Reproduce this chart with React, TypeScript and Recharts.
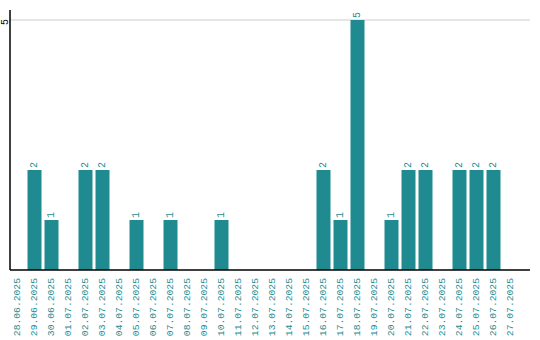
import React from 'react';
import { BarChart, Bar, XAxis, YAxis, CartesianGrid, LabelList } from 'recharts';

const dates = [
  '28.06.2025', '29.06.2025', '30.06.2025', '01.07.2025', '02.07.2025', '03.07.2025',
  '04.07.2025', '05.07.2025', '06.07.2025', '07.07.2025', '08.07.2025', '09.07.2025',
  '10.07.2025', '11.07.2025', '12.07.2025', '13.07.2025', '14.07.2025', '15.07.2025',
  '16.07.2025', '17.07.2025', '18.07.2025', '19.07.2025', '20.07.2025', '21.07.2025',
  '22.07.2025', '23.07.2025', '24.07.2025', '25.07.2025', '26.07.2025', '27.07.2025',
];
const counts = [0, 2, 1, 0, 2, 2, 0, 1, 0, 1, 0, 0, 1, 0, 0, 0, 0, 0, 2, 1, 5, 0, 1, 2, 2, 0, 2, 2, 2, 0];
const yTicks = [5];

const data = dates.map((d, i) => ({ date: d, count: counts[i] }));

const TEAL = '#1f8b91';
const FONT = '"Liberation Mono", monospace';

function XTick(props: any) {
  const { x, y, payload } = props;
  return (
    <text
      x={x}
      y={y}
      transform={`rotate(-90 ${x} ${y})`}
      textAnchor="end"
      dominantBaseline="central"
      fill={TEAL}
      fontSize={9.7}
      fontFamily={FONT}
    >
      {payload.value}
    </text>
  );
}

function YTick(props: any) {
  const { y, payload } = props;
  return (
    <text
      x={5}
      y={y + 2}
      transform={`rotate(-90 5 ${y + 2})`}
      textAnchor="middle"
      dominantBaseline="central"
      fill="#000"
      fontSize={10}
      fontFamily={FONT}
    >
      {payload.value}
    </text>
  );
}

function ValueLabel(props: any) {
  const { x, y, width, value } = props;
  if (!value) return null;
  const cx = x + width / 2;
  const ty = y - 2;
  return (
    <text
      x={cx}
      y={ty}
      transform={`rotate(-90 ${cx} ${ty})`}
      textAnchor="start"
      dominantBaseline="central"
      fill={TEAL}
      fontSize={10}
      fontFamily={FONT}
    >
      {value}
    </text>
  );
}

export default function App() {
  return (
    <div style={{ position: 'absolute', left: 0, top: 0, width: 540, height: 340, background: '#fff' }}>
      <BarChart width={540} height={340} data={data} margin={{ top: 10, right: 10, bottom: 0, left: 0 }}>
        <CartesianGrid horizontal vertical={false} stroke="#cccccc" horizontalValues={yTicks} />
        <XAxis
          dataKey="date"
          interval={0}
          height={70}
          tick={<XTick />}
          tickLine={false}
          axisLine={{ stroke: '#000', strokeWidth: 1.5 }}
          padding={{ left: -1.5, right: 11.5 }}
        />
        <YAxis
          width={10}
          domain={[0, 5.2]}
          ticks={yTicks}
          tick={<YTick />}
          tickLine={false}
          axisLine={{ stroke: '#000', strokeWidth: 1.5 }}
        />
        <Bar dataKey="count" fill={TEAL} barSize={14} isAnimationActive={false}>
          <LabelList dataKey="count" content={<ValueLabel />} />
        </Bar>
      </BarChart>
    </div>
  );
}
